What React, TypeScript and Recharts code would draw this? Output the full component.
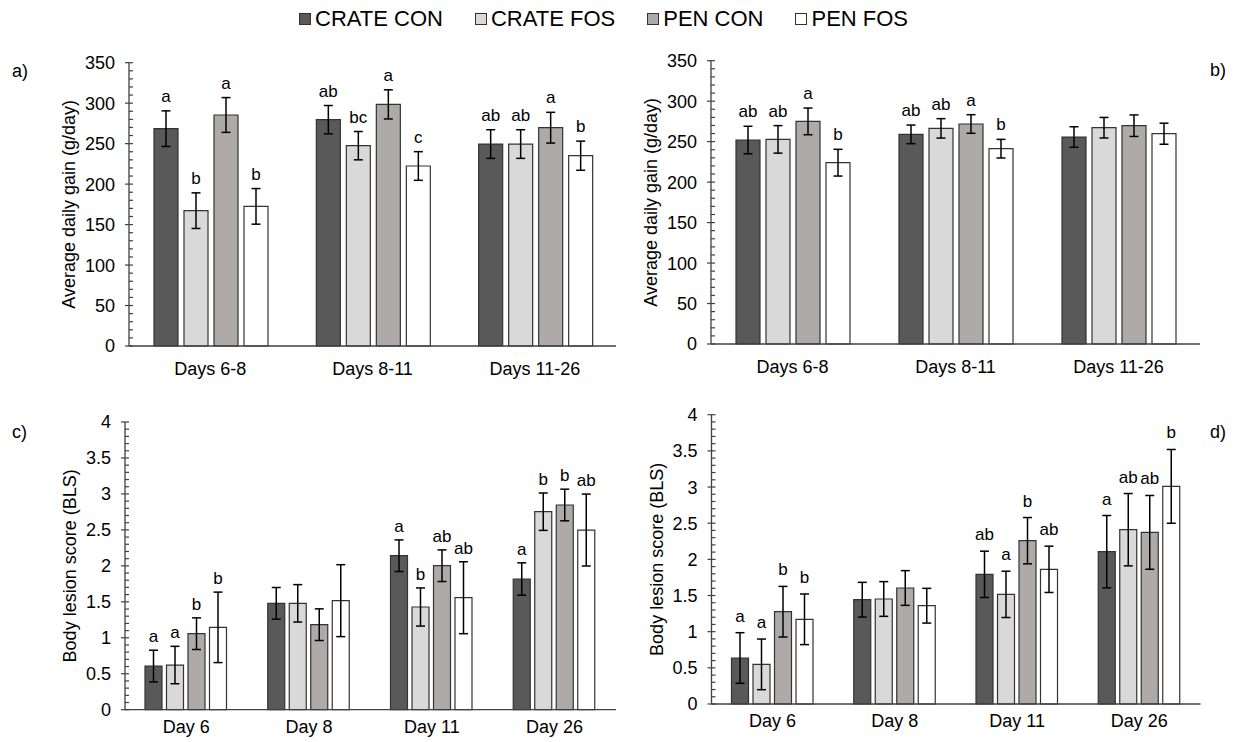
import React from 'react';
import { BarChart, Bar, XAxis, YAxis, ErrorBar, LabelList } from 'recharts';

const FONT = '"Liberation Sans", Arial, Helvetica, sans-serif';
const SERIES = ['CRATE CON', 'CRATE FOS', 'PEN CON', 'PEN FOS'];
const FILLS = ['#595959', '#d9d9d9', '#aeaaaa', '#ffffff'];
const BAR_STROKE = '#333333';
const AXIS_STROKE = '#404040';

// ---------- Panel a: ADG, crate vs pen ----------
const adgCategories = ['Days 6-8', 'Days 8-11', 'Days 11-26'];
const aCrateCon = [268.5, 279.6, 249.5];
const aCrateConErr = [22, 17.5, 17.7];
const aCrateConLetters = ['a', 'ab', 'ab'];
const aCrateFos = [167.2, 247.5, 249.5];
const aCrateFosErr = [22, 17.5, 17.7];
const aCrateFosLetters = ['b', 'bc', 'ab'];
const aPenCon = [285.4, 298.5, 269.7];
const aPenConErr = [21.5, 18, 19];
const aPenConLetters = ['a', 'a', 'a'];
const aPenFos = [172.5, 222.4, 235.1];
const aPenFosErr = [22, 17.7, 18];
const aPenFosLetters = ['b', 'c', 'b'];

// ---------- Panel b ----------
const bCrateCon = [252, 259, 255.7];
const bCrateConErr = [17, 11.5, 12.7];
const bCrateConLetters = ['ab', 'ab', ''];
const bCrateFos = [252.8, 266.4, 267.2];
const bCrateFosErr = [17, 12, 12.7];
const bCrateFosLetters = ['ab', 'ab', ''];
const bPenCon = [275, 271.8, 269.7];
const bPenConErr = [16.5, 11.5, 13.3];
const bPenConLetters = ['a', 'a', ''];
const bPenFos = [224, 241.3, 259.8];
const bPenFosErr = [16.5, 11.5, 13];
const bPenFosLetters = ['b', 'b', ''];

// ---------- Panel c: BLS ----------
const blsCategories = ['Day 6', 'Day 8', 'Day 11', 'Day 26'];
const cCrateCon = [0.607, 1.479, 2.141, 1.817];
const cCrateConErr = [0.22, 0.22, 0.22, 0.225];
const cCrateConLetters = ['a', '', 'a', 'a'];
const cCrateFos = [0.621, 1.479, 1.428, 2.753];
const cCrateFosErr = [0.26, 0.26, 0.265, 0.26];
const cCrateFosLetters = ['a', '', 'b', 'b'];
const cPenCon = [1.057, 1.182, 2.002, 2.846];
const cPenConErr = [0.22, 0.22, 0.22, 0.22];
const cPenConLetters = ['b', '', 'ab', 'b'];
const cPenFos = [1.145, 1.516, 1.557, 2.498];
const cPenFosErr = [0.49, 0.5, 0.5, 0.5];
const cPenFosLetters = ['b', '', 'ab', 'ab'];

// ---------- Panel d ----------
const dCrateCon = [0.636, 1.442, 1.793, 2.106];
const dCrateConErr = [0.35, 0.24, 0.32, 0.5];
const dCrateConLetters = ['a', '', 'ab', 'a'];
const dCrateFos = [0.548, 1.452, 1.516, 2.41];
const dCrateFosErr = [0.35, 0.24, 0.32, 0.5];
const dCrateFosLetters = ['a', '', 'a', 'ab'];
const dPenCon = [1.276, 1.604, 2.258, 2.373];
const dPenConErr = [0.35, 0.24, 0.32, 0.51];
const dPenConLetters = ['b', '', 'b', 'ab'];
const dPenFos = [1.171, 1.359, 1.862, 3.009];
const dPenFosErr = [0.35, 0.24, 0.32, 0.51];
const dPenFosLetters = ['b', '', 'ab', 'b'];

// axis tick settings
const adgMax = 350;
const adgMajor = 50;
const adgMinor = 10;
const blsMax = 4;
const blsMajor = 0.5;
const blsMinor = 0.1;

const adgLabel = 'Average daily gain (g/day)';
const blsLabel = 'Body lesion score (BLS)';

type S = { values: number[]; errors: number[]; letters: string[] };

function buildRows(categories: string[], series: S[]) {
  return categories.map((cat, i) => {
    const row: any = { cat };
    series.forEach((s, k) => {
      row[`v${k}`] = s.values[i];
      row[`e${k}`] = s.errors[i];
      row[`l${k}`] = s.letters[i];
    });
    return row;
  });
}

function tickList(max: number, step: number) {
  const out: number[] = [];
  const n = Math.round(max / step);
  for (let i = 0; i <= n; i++) out.push(Math.round(i * step * 1000) / 1000);
  return out;
}

const makeYTick = (major: number) => (props: any) => {
  const { x, y, payload } = props;
  const v = payload.value;
  const isMajor = Math.abs(v / major - Math.round(v / major)) < 1e-6;
  if (isMajor) {
    return (
      <g>
        <line x1={x - 4} x2={x + 4} y1={y} y2={y} stroke={AXIS_STROKE} strokeWidth={1.2} />
        <text x={x - 14} y={y} dy="0.36em" textAnchor="end" fontSize={18} fontFamily={FONT} fill="#000">
          {String(v)}
        </text>
      </g>
    );
  }
  return <line x1={x} x2={x + 4} y1={y} y2={y} stroke={AXIS_STROKE} strokeWidth={1.2} />;
};

const makeXTick = (dy: number) => (props: any) => {
  const { x, y, payload } = props;
  return (
    <text x={x} y={y + dy} textAnchor="middle" fontSize={18} fontFamily={FONT} fill="#000">
      {payload.value}
    </text>
  );
};

const makeLetter = (rows: any[], k: number, gap: number) => (props: any) => {
  const vb = props.viewBox || props;
  const x = vb.x ?? props.x;
  const y = vb.y ?? props.y;
  const width = vb.width ?? props.width;
  const height = vb.height ?? props.height;
  const index = props.index;
  const row = rows[index];
  if (!row) return null;
  const letter = row[`l${k}`];
  if (!letter) return null;
  const pxPer = height / row[`v${k}`];
  const top = y - row[`e${k}`] * pxPer;
  return (
    <text x={x + width / 2} y={top - gap} textAnchor="middle" fontSize={17} fontFamily={FONT} fill="#000">
      {letter}
    </text>
  );
};

const makeYLabel = (text: string, dist: number) => (props: any) => {
  const vb = props.viewBox;
  const cx = vb.x + vb.width - dist;
  const cy = vb.y + vb.height / 2;
  return (
    <text
      x={cx}
      y={cy}
      transform={`rotate(-90 ${cx} ${cy})`}
      textAnchor="middle"
      dy="0.36em"
      fontSize={18}
      fontFamily={FONT}
      fill="#000"
    >
      {text}
    </text>
  );
};

type PanelProps = {
  rows: any[];
  left: number;
  top: number;
  width: number;
  height: number;
  margin: { top: number; right: number; bottom: number; left: number };
  max: number;
  major: number;
  minor: number;
  yLabel: string;
  yLabelDist: number;
  catGap: number;
  barGap: number;
  xDy: number;
  letterGap: number;
};

function Panel(p: PanelProps) {
  return (
    <div style={{ position: 'absolute', left: p.left, top: p.top }}>
      <BarChart
        width={p.width}
        height={p.height}
        data={p.rows}
        margin={p.margin}
        barCategoryGap={p.catGap}
        barGap={p.barGap}
      >
        <XAxis
          dataKey="cat"
          tickLine={false}
          tickSize={0}
          tickMargin={0}
          height={30}
          interval={0}
          axisLine={{ stroke: AXIS_STROKE, strokeWidth: 1.3 }}
          tick={makeXTick(p.xDy)}
        />
        <YAxis
          type="number"
          domain={[0, p.max]}
          ticks={tickList(p.max, p.minor)}
          interval={0}
          width={60}
          tickSize={0}
          tickMargin={0}
          tickLine={false}
          axisLine={{ stroke: AXIS_STROKE, strokeWidth: 1.3 }}
          tick={makeYTick(p.major)}
          label={{ content: makeYLabel(p.yLabel, p.yLabelDist) } as any}
        />
        {SERIES.map((name, k) => (
          <Bar
            key={name}
            dataKey={`v${k}`}
            name={name}
            fill={FILLS[k]}
            stroke={BAR_STROKE}
            strokeWidth={1.2}
            isAnimationActive={false}
          >
            <ErrorBar dataKey={`e${k}`} width={4.5} stroke="#000" strokeWidth={1.5} direction="y" />
            <LabelList dataKey={`l${k}`} content={makeLetter(p.rows, k, p.letterGap)} />
          </Bar>
        ))}
      </BarChart>
    </div>
  );
}

function Legend() {
  return (
    <div
      style={{
        position: 'absolute',
        left: 299,
        top: 7,
        height: 24,
        display: 'flex',
        alignItems: 'center',
        fontFamily: FONT,
        fontSize: 22,
        color: '#000',
      }}
    >
      {SERIES.map((s, k) => (
        <div key={s} style={{ display: 'flex', alignItems: 'center', marginRight: k < 3 ? 32 : 0 }}>
          <div
            style={{
              width: 10,
              height: 10,
              background: FILLS[k],
              border: `1.2px solid ${BAR_STROKE}`,
              marginRight: 4,
            }}
          />
          <span style={{ lineHeight: '24px', whiteSpace: 'nowrap' }}>{s}</span>
        </div>
      ))}
    </div>
  );
}

export default function App() {
  const rowsA = buildRows(adgCategories, [
    { values: aCrateCon, errors: aCrateConErr, letters: aCrateConLetters },
    { values: aCrateFos, errors: aCrateFosErr, letters: aCrateFosLetters },
    { values: aPenCon, errors: aPenConErr, letters: aPenConLetters },
    { values: aPenFos, errors: aPenFosErr, letters: aPenFosLetters },
  ]);
  const rowsB = buildRows(adgCategories, [
    { values: bCrateCon, errors: bCrateConErr, letters: bCrateConLetters },
    { values: bCrateFos, errors: bCrateFosErr, letters: bCrateFosLetters },
    { values: bPenCon, errors: bPenConErr, letters: bPenConLetters },
    { values: bPenFos, errors: bPenFosErr, letters: bPenFosLetters },
  ]);
  const rowsC = buildRows(blsCategories, [
    { values: cCrateCon, errors: cCrateConErr, letters: cCrateConLetters },
    { values: cCrateFos, errors: cCrateFosErr, letters: cCrateFosLetters },
    { values: cPenCon, errors: cPenConErr, letters: cPenConLetters },
    { values: cPenFos, errors: cPenFosErr, letters: cPenFosLetters },
  ]);
  const rowsD = buildRows(blsCategories, [
    { values: dCrateCon, errors: dCrateConErr, letters: dCrateConLetters },
    { values: dCrateFos, errors: dCrateFosErr, letters: dCrateFosLetters },
    { values: dPenCon, errors: dPenConErr, letters: dPenConLetters },
    { values: dPenFos, errors: dPenFosErr, letters: dPenFosLetters },
  ]);

  return (
    <div
      style={{
        position: 'absolute',
        left: 0,
        top: 0,
        width: 1233,
        height: 742,
        background: '#fff',
        fontFamily: FONT,
        overflow: 'hidden',
      }}
    >
      <Legend />
      <Panel
        rows={rowsA}
        left={0}
        top={40}
        width={630}
        height={340}
        margin={{ top: 22.7, right: 14, bottom: 4, left: 69 }}
        max={adgMax}
        major={adgMajor}
        minor={adgMinor}
        yLabel={adgLabel}
        yLabelDist={60}
        catGap={25}
        barGap={6}
        xDy={29}
        letterGap={9}
      />
      <Panel
        rows={rowsB}
        left={620}
        top={40}
        width={613}
        height={340}
        margin={{ top: 20.7, right: 33, bottom: 6, left: 31 }}
        max={adgMax}
        major={adgMajor}
        minor={adgMinor}
        yLabel={adgLabel}
        yLabelDist={60}
        catGap={25}
        barGap={6}
        xDy={29}
        letterGap={9}
      />
      <Panel
        rows={rowsC}
        left={0}
        top={380}
        width={630}
        height={362}
        margin={{ top: 42, right: 14, bottom: 2.3, left: 65 }}
        max={blsMax}
        major={blsMajor}
        minor={blsMinor}
        yLabel={blsLabel}
        yLabelDist={55}
        catGap={20}
        barGap={4.5}
        xDy={23}
        letterGap={8}
      />
      <Panel
        rows={rowsD}
        left={620}
        top={380}
        width={613}
        height={362}
        margin={{ top: 34.7, right: 32.5, bottom: 8, left: 31.5 }}
        max={blsMax}
        major={blsMajor}
        minor={blsMinor}
        yLabel={blsLabel}
        yLabelDist={55}
        catGap={20}
        barGap={4.5}
        xDy={23}
        letterGap={11}
      />
      <svg
        width={1233}
        height={742}
        style={{ position: 'absolute', left: 0, top: 0, pointerEvents: 'none' }}
      >
        <text x={12} y={77} fontSize={18} fontFamily={FONT} fill="#000">a)</text>
        <text x={1210} y={76} fontSize={18} fontFamily={FONT} fill="#000">b)</text>
        <text x={12} y={438} fontSize={18} fontFamily={FONT} fill="#000">c)</text>
        <text x={1210} y={438} fontSize={18} fontFamily={FONT} fill="#000">d)</text>
      </svg>
    </div>
  );
}
